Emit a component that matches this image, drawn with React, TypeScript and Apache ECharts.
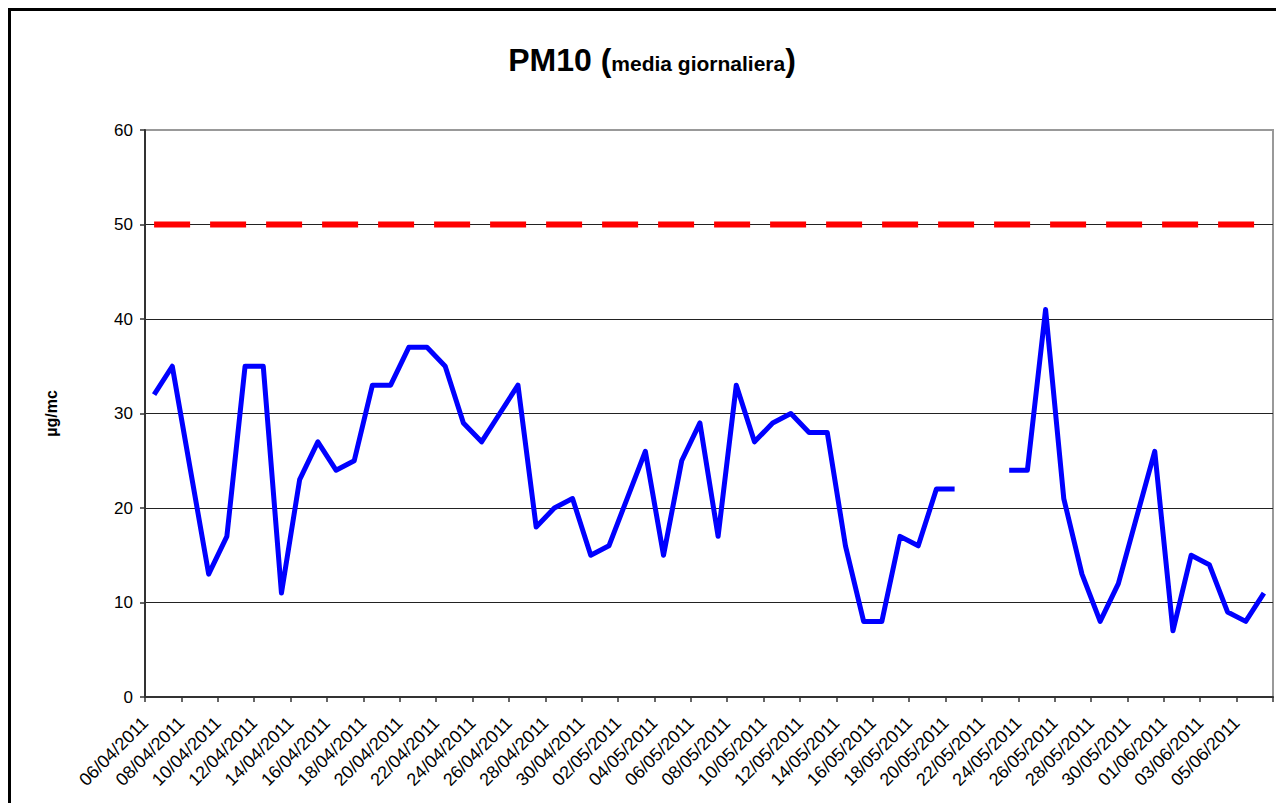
import React, { useEffect, useRef } from "react";
import * as echarts from "echarts";

const dates = [
  "06/04/2011", "07/04/2011", "08/04/2011", "09/04/2011", "10/04/2011", "11/04/2011", "12/04/2011",
  "13/04/2011", "14/04/2011", "15/04/2011", "16/04/2011", "17/04/2011", "18/04/2011", "19/04/2011",
  "20/04/2011", "21/04/2011", "22/04/2011", "23/04/2011", "24/04/2011", "25/04/2011", "26/04/2011",
  "27/04/2011", "28/04/2011", "29/04/2011", "30/04/2011",
  "01/05/2011", "02/05/2011", "03/05/2011", "04/05/2011", "05/05/2011", "06/05/2011", "07/05/2011",
  "08/05/2011", "09/05/2011", "10/05/2011", "11/05/2011", "12/05/2011", "13/05/2011", "14/05/2011",
  "15/05/2011", "16/05/2011", "17/05/2011", "18/05/2011", "19/05/2011", "20/05/2011", "21/05/2011",
  "22/05/2011", "23/05/2011", "24/05/2011", "25/05/2011", "26/05/2011", "27/05/2011", "28/05/2011",
  "29/05/2011", "30/05/2011", "31/05/2011",
  "01/06/2011", "02/06/2011", "03/06/2011", "04/06/2011", "05/06/2011", "06/06/2011",
];

const pm10: (number | null)[] = [
  32, 35, 24, 13, 17, 35, 35, 11, 23, 27,
  24, 25, 33, 33, 37, 37, 35, 29, 27, 30,
  33, 18, 20, 21, 15, 16, 21, 26, 15, 25,
  29, 17, 33, 27, 29, 30, 28, 28, 16, 8,
  8, 17, 16, 22, 22, null, null, 24, 24, 41,
  21, 13, 8, 12, 19, 26, 7, 15, 14, 9,
  8, 11,
];

const limitValue = 50;
const yTicks = [0, 10, 20, 30, 40, 50, 60];

const FONT = "'Liberation Sans', Arial, Helvetica, sans-serif";

export default function App() {
  const ref = useRef<HTMLDivElement>(null);

  useEffect(() => {
    if (!ref.current) return;
    const chart = echarts.init(ref.current, undefined, { renderer: "svg" });
    const limitLine = dates.map(() => limitValue);
    const labelAxisData = [...dates, ""];

    chart.setOption({
      animation: false,
      backgroundColor: "#ffffff",
      textStyle: { fontFamily: FONT },
      graphic: [
        {
          type: "rect",
          shape: { x: 1.5, y: 1.5, width: 1400, height: 1000 },
          style: { fill: "none", stroke: "#000", lineWidth: 3 },
          silent: true,
        },
      ],
      title: {
        text: "{a|PM10 (}{b|media giornaliera}{a|)}",
        left: 639,
        textAlign: "center",
        top: 31,
        textStyle: {
          rich: {
            a: { fontSize: 32, fontWeight: "bold", fontFamily: FONT, color: "#000", verticalAlign: "bottom" },
            b: { fontSize: 21, fontWeight: "bold", fontFamily: FONT, color: "#000", verticalAlign: "bottom", padding: [0, 0, 2, 0] },
          },
        },
      },
      grid: {
        left: 137,
        right: 3,
        top: 122,
        bottom: 106,
        show: true,
        borderColor: "#999",
        borderWidth: 2,
        backgroundColor: "transparent",
      },
      xAxis: [
        {
          type: "category",
          data: dates,
          boundaryGap: true,
          axisLine: { show: true, lineStyle: { color: "#333", width: 2 } },
          axisTick: { show: false },
          axisLabel: { show: false },
          splitLine: { show: false },
        },
        {
          type: "category",
          data: labelAxisData,
          boundaryGap: false,
          position: "bottom",
          axisLine: { show: false },
          axisTick: { show: true, interval: 1, length: 5, lineStyle: { color: "#333", width: 1.5 } },
          axisLabel: {
            interval: 1,
            rotate: 45,
            margin: 23,
            padding: [10, 0, 0, 0],
            fontSize: 18,
            color: "#000",
            fontFamily: FONT,
          },
          splitLine: { show: false },
        },
      ],
      yAxis: {
        type: "value",
        min: 0,
        max: 60,
        interval: 10,
        name: "µg/mc",
        nameLocation: "middle",
        nameGap: 86,
        nameTextStyle: { fontSize: 16, fontWeight: "bold", color: "#000", fontFamily: FONT },
        axisLine: { show: true, lineStyle: { color: "#333", width: 2 } },
        axisTick: { show: true, length: 5, lineStyle: { color: "#333", width: 1.5 } },
        axisLabel: {
          margin: 12,
          fontSize: 17,
          color: "#000",
          fontFamily: FONT,
          formatter: (v: number) => (yTicks.includes(v) ? String(v) : ""),
        },
        splitLine: {
          show: true,
          lineStyle: { color: ["#222", "#222", "#222", "#222", "#222", "#222", "#999"], width: 1 },
        },
      },
      series: [
        {
          name: "Limite",
          type: "line",
          xAxisIndex: 0,
          data: limitLine,
          symbol: "none",
          lineStyle: { color: "#ff0000", width: 6, type: [36, 20], cap: "butt" },
          silent: true,
        },
        {
          name: "PM10",
          type: "line",
          xAxisIndex: 0,
          data: pm10,
          symbol: "none",
          connectNulls: false,
          lineStyle: { color: "#0000ff", width: 5, join: "round" },
        },
      ],
    });

    return () => chart.dispose();
  }, []);

  return <div ref={ref} style={{ width: 1268, height: 795 }} />;
}
